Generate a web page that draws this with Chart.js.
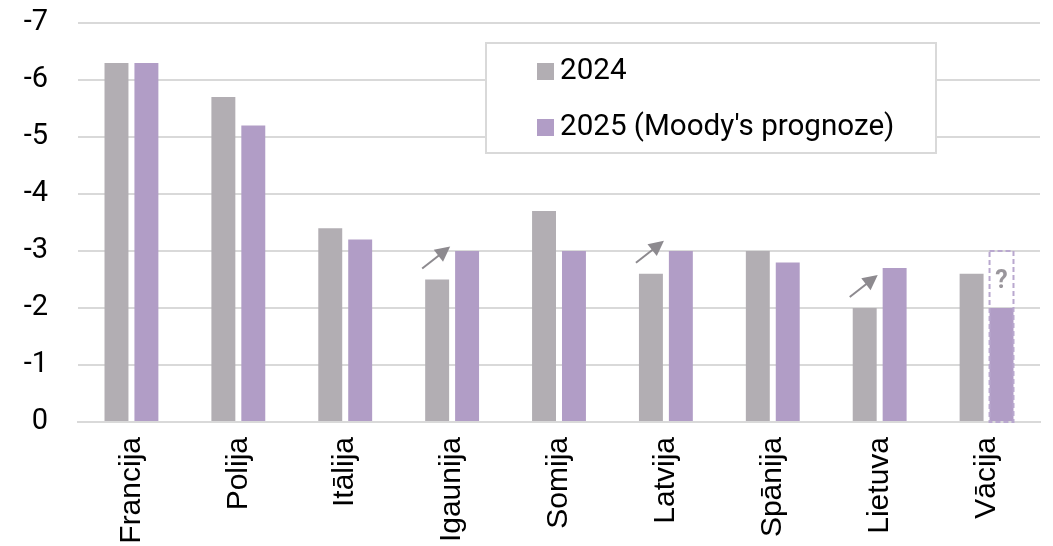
<!DOCTYPE html>
<html><head><meta charset="utf-8">
<script src="https://cdn.jsdelivr.net/npm/chart.js@4/dist/chart.umd.min.js"></script>
<style>html,body{margin:0;padding:0;background:#fff}#wrap{width:1053px;height:546px;position:relative}</style>
</head><body><div id="wrap"><canvas id="c"></canvas></div>
<script>
const categories = ["Francija","Polija","Itālija","Igaunija","Somija","Latvija","Spānija","Lietuva","Vācija"];
const values2024 = [-6.3,-5.7,-3.4,-2.5,-3.7,-2.6,-3.0,-2.0,-2.6];
const values2025 = [-6.3,-5.2,-3.2,-3.0,-3.0,-3.0,-2.8,-2.7,-2.0];
const seriesLabels = ["2024","2025 (Moody's prognoze)"];
const arrowCategories = ["Igaunija","Latvija","Lietuva"];
const uncertainCategory = "Vācija";
const uncertainTop = -3.0;
const yTicks = [0,-1,-2,-3,-4,-5,-6,-7];

const GRAY = '#b2aeb3', PURPLE = '#b19dc6';

const annotations = {
  id: 'annotations',
  afterDatasetsDraw(chart) {
    const ctx = chart.ctx, y = chart.scales.y;
    const m0 = chart.getDatasetMeta(0), m1 = chart.getDatasetMeta(1);
    ctx.save();
    arrowCategories.forEach(name => {
      const i = categories.indexOf(name);
      const b0 = m0.data[i];
      const x1 = b0.x - b0.width/2 - 3, y1 = b0.y - 11;
      const x2 = x1 + 28, y2 = y1 - 22;
      const ang = Math.atan2(y2 - y1, x2 - x1);
      ctx.strokeStyle = '#8d8a8f'; ctx.fillStyle = '#8d8a8f'; ctx.lineWidth = 2;
      ctx.beginPath(); ctx.moveTo(x1, y1);
      ctx.lineTo(x2 - 12*Math.cos(ang), y2 - 12*Math.sin(ang)); ctx.stroke();
      const L = 15, W = 7.5;
      ctx.beginPath(); ctx.moveTo(x2, y2);
      ctx.lineTo(x2 - L*Math.cos(ang) + W*Math.sin(ang), y2 - L*Math.sin(ang) - W*Math.cos(ang));
      ctx.lineTo(x2 - L*Math.cos(ang) - W*Math.sin(ang), y2 - L*Math.sin(ang) + W*Math.cos(ang));
      ctx.closePath(); ctx.fill();
    });
    const k = categories.indexOf(uncertainCategory);
    const b = m1.data[k];
    const top = y.getPixelForValue(uncertainTop), bot = y.getPixelForValue(0);
    ctx.setLineDash([5,3]); ctx.strokeStyle = '#b9a8cf'; ctx.lineWidth = 2;
    ctx.strokeRect(b.x - b.width/2, top, b.width, bot - top);
    ctx.setLineDash([]);
    ctx.fillStyle = '#9a969c'; ctx.font = 'bold 25px Roboto'; ctx.textAlign = 'center'; ctx.textBaseline = 'middle';
    ctx.fillText('?', b.x, (top + b.y)/2 + 2);
    ctx.restore();
  },
  afterDraw(chart) {
    const ctx = chart.ctx;
    ctx.save();
    ctx.fillStyle = '#fff'; ctx.fillRect(486, 43, 450, 110);
    ctx.strokeStyle = '#d9d9d9'; ctx.lineWidth = 2; ctx.strokeRect(486, 43, 450, 110);
    ctx.font = '29.6px Roboto'; ctx.textBaseline = 'middle'; ctx.textAlign = 'left';
    chart.data.datasets.forEach((ds, i) => {
      const yy = 71 + i*56;
      ctx.fillStyle = ds.backgroundColor; ctx.fillRect(537, yy - 8, 17, 17);
      ctx.fillStyle = '#000'; ctx.fillText(ds.label, 560, yy + 1);
    });
    ctx.restore();
  }
};

new Chart(document.getElementById('c'), {
  type: 'bar',
  data: {
    labels: categories,
    datasets: [
      {label: seriesLabels[0], data: values2024, backgroundColor: GRAY},
      {label: seriesLabels[1], data: values2025, backgroundColor: PURPLE}
    ]
  },
  options: {
    responsive: true, maintainAspectRatio: false, animation: false,
    layout: {padding: {top: 23, right: 13, left: 0, bottom: 0}},
    categoryPercentage: 0.56, barPercentage: 0.8,
    plugins: {legend: {display: false}, tooltip: {enabled: false}},
    scales: {
      y: {
        reverse: true, min: -7, max: 0,
        afterBuildTicks(s) { s.ticks = yTicks.map(v => ({value: v})); },
        afterFit(s) { s.width = 78; s.paddingTop = 0; s.paddingBottom = 0; },
        ticks: {color: '#000', font: {family: 'Roboto', size: 29}, padding: 30},
        grid: {color: '#d9d9d9', lineWidth: 2, drawTicks: false},
        border: {display: false}
      },
      x: {
        afterFit(s) { s.height = 124; s.paddingLeft = 0; s.paddingRight = 0; s.paddingTop = 0; s.paddingBottom = 0; },
        ticks: {color: '#000', font: {family: 'Liberation Sans', size: 30}, minRotation: 90, maxRotation: 90, padding: 7},
        grid: {display: false},
        border: {color: '#d9d9d9', width: 2}
      }
    }
  },
  plugins: [annotations]
});
</script></body></html>
